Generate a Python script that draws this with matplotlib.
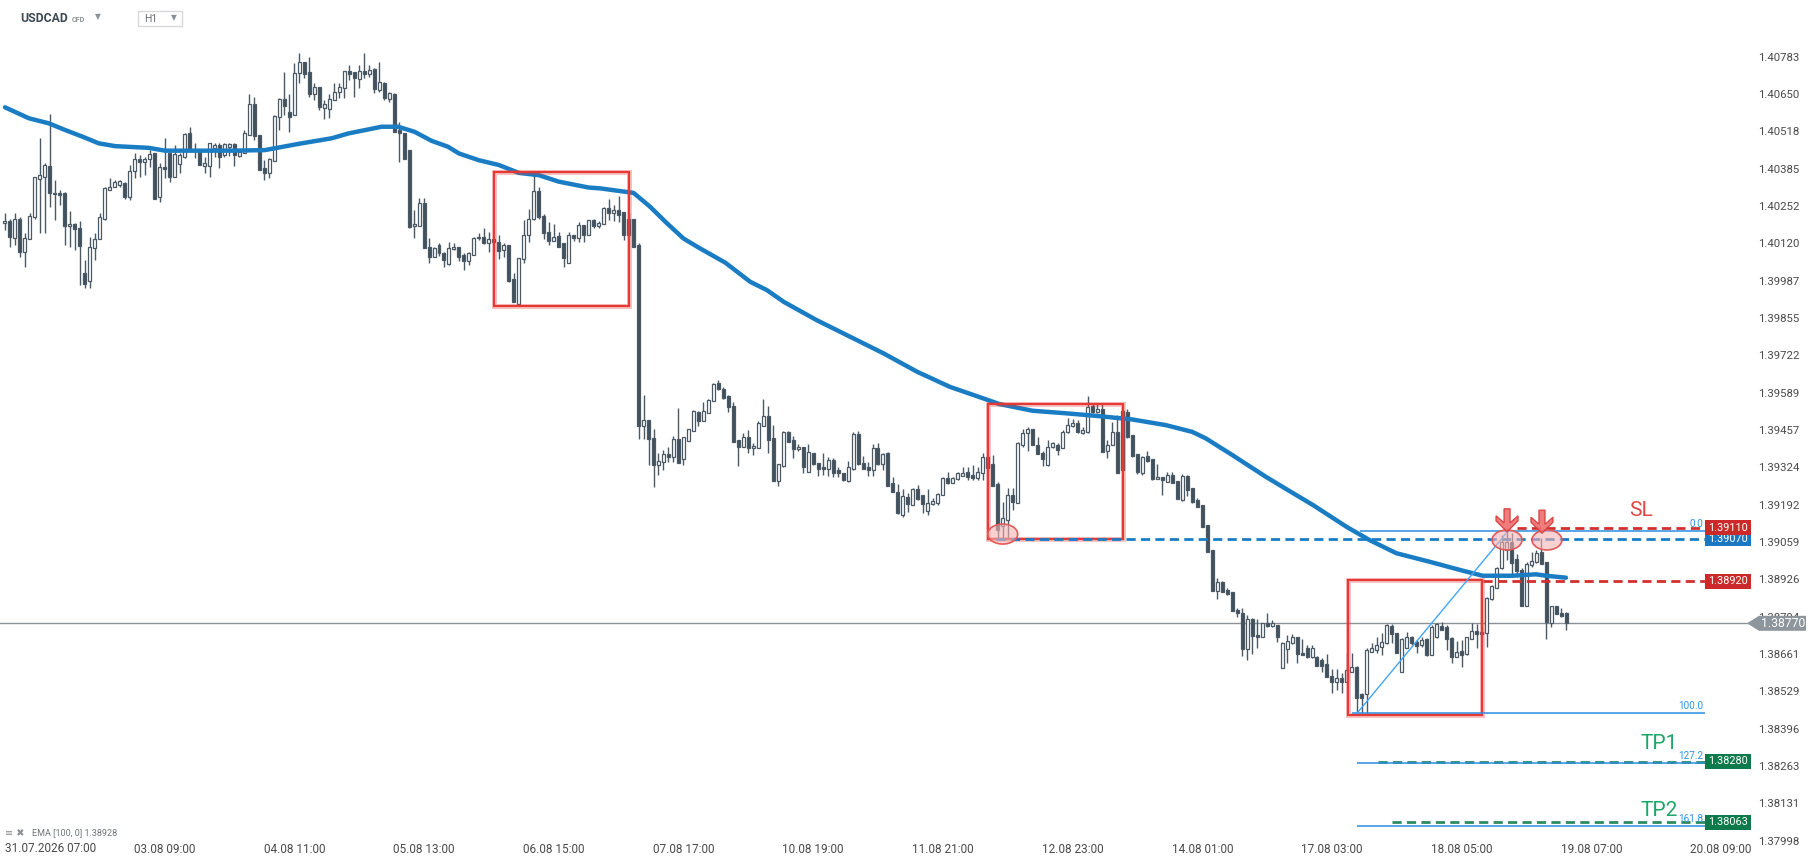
import numpy as np
import matplotlib.pyplot as plt
from matplotlib.patches import Rectangle, Ellipse, Polygon
from matplotlib import transforms

plt.rcParams['font.family'] = ['Roboto', 'DejaVu Sans']

# price points: price = 1.38 + pts / 1e5, one value per H1 candle
opens = [
    2193, 2200, 2137, 2206, 2088, 2134, 2212, 2350, 2356, 2395,
    2297, 2297, 2297, 2182, 2187, 2173, 2013, 1985, 2102, 2134,
    2208, 2311, 2321, 2327, 2333, 2283, 2378, 2418, 2410, 2419,
    2439, 2285, 2390, 2439, 2354, 2401, 2427, 2510, 2451, 2451,
    2396, 2396, 2457, 2469, 2433, 2463, 2473, 2431, 2439, 2505,
    2615, 2505, 2386, 2368, 2413, 2567, 2632, 2585, 2575, 2726,
    2763, 2729, 2652, 2674, 2601, 2596, 2629, 2656, 2670, 2732,
    2730, 2703, 2732, 2723, 2738, 2664, 2688, 2631, 2652, 2522,
    2510, 2451, 2183, 2183, 2262, 2108, 2072, 2114, 2084, 2045,
    2098, 2105, 2078, 2058, 2080, 2137, 2141, 2120, 2134, 2126,
    2096, 2114, 1992, 1906, 2063, 2149, 2205, 2307, 2217, 2159,
    2129, 2146, 2120, 2051, 2149, 2137, 2185, 2149, 2202, 2181,
    2188, 2244, 2228, 2238, 2230, 2149, 2208, 2114, 1471, 1492,
    1430, 1332, 1344, 1371, 1362, 1423, 1352, 1418, 1454, 1521,
    1490, 1518, 1561, 1622, 1604, 1577, 1542, 1421, 1398, 1431,
    1392, 1394, 1472, 1507, 1427, 1277, 1330, 1451, 1421, 1388,
    1395, 1309, 1374, 1338, 1327, 1317, 1350, 1315, 1305, 1277,
    1317, 1443, 1338, 1327, 1313, 1392, 1335, 1374, 1267, 1236,
    1155, 1218, 1190, 1246, 1226, 1170, 1193, 1196, 1226, 1285,
    1270, 1282, 1293, 1307, 1297, 1285, 1303, 1360, 1335, 1264,
    1115, 1137, 1225, 1198, 1403, 1445, 1462, 1403, 1376, 1331,
    1395, 1403, 1391, 1448, 1471, 1482, 1447, 1450, 1542, 1522,
    1533, 1383, 1403, 1450, 1314, 1521, 1439, 1371, 1305, 1364,
    1352, 1281, 1291, 1273, 1297, 1275, 1208, 1293, 1249, 1208,
    1190, 1119, 1030, 886, 918, 888, 882, 819, 805, 677,
    787, 728, 720, 772, 760, 764, 610, 678, 701, 723,
    665, 681, 649, 649, 640, 625, 583, 563, 575, 563,
    598, 613, 519, 518, 669, 675, 687, 699, 760, 734,
    598, 684, 723, 705, 693, 713, 657, 720, 760, 758,
    717, 651, 673, 661, 716, 743, 740, 737, 855, 894,
    965, 1030, 1060, 997, 959, 831, 978, 989, 1024, 989,
    772, 831, 808, 808]
highs = [
    2226, 2208, 2226, 2214, 2155, 2226, 2356, 2493, 2404, 2581,
    2345, 2309, 2303, 2236, 2191, 2200, 2060, 2143, 2155, 2226,
    2321, 2351, 2345, 2345, 2339, 2398, 2439, 2433, 2427, 2451,
    2442, 2404, 2493, 2445, 2469, 2439, 2510, 2532, 2475, 2451,
    2427, 2475, 2475, 2475, 2475, 2475, 2475, 2445, 2522, 2650,
    2638, 2505, 2416, 2422, 2575, 2637, 2729, 2652, 2759, 2795,
    2765, 2783, 2688, 2674, 2629, 2652, 2688, 2688, 2732, 2753,
    2730, 2753, 2795, 2753, 2741, 2765, 2694, 2658, 2655, 2552,
    2510, 2451, 2238, 2280, 2280, 2137, 2108, 2120, 2090, 2123,
    2122, 2105, 2084, 2090, 2141, 2155, 2173, 2161, 2140, 2149,
    2120, 2114, 2013, 2066, 2202, 2240, 2374, 2321, 2224, 2196,
    2188, 2161, 2120, 2161, 2149, 2196, 2185, 2202, 2208, 2200,
    2250, 2276, 2255, 2288, 2232, 2226, 2208, 2120, 1581, 1492,
    1462, 1374, 1385, 1395, 1435, 1536, 1433, 1459, 1527, 1525,
    1557, 1568, 1622, 1634, 1611, 1581, 1557, 1421, 1445, 1457,
    1409, 1487, 1566, 1542, 1475, 1335, 1453, 1453, 1436, 1407,
    1398, 1407, 1374, 1341, 1374, 1362, 1356, 1327, 1305, 1348,
    1451, 1453, 1364, 1344, 1407, 1409, 1376, 1380, 1291, 1264,
    1246, 1234, 1250, 1261, 1226, 1246, 1214, 1234, 1289, 1309,
    1291, 1309, 1327, 1327, 1333, 1327, 1374, 1360, 1368, 1273,
    1202, 1249, 1249, 1415, 1462, 1468, 1462, 1433, 1383, 1421,
    1415, 1409, 1456, 1501, 1494, 1492, 1468, 1577, 1551, 1551,
    1553, 1421, 1486, 1510, 1527, 1533, 1439, 1371, 1364, 1383,
    1352, 1336, 1291, 1308, 1308, 1275, 1299, 1297, 1249, 1214,
    1190, 1119, 1030, 930, 920, 894, 882, 823, 823, 799,
    790, 787, 772, 805, 782, 764, 705, 728, 732, 723,
    713, 693, 693, 655, 645, 661, 606, 606, 592, 663,
    663, 618, 524, 681, 699, 723, 737, 768, 768, 737,
    717, 740, 725, 711, 723, 717, 764, 770, 776, 764,
    723, 707, 711, 723, 772, 768, 758, 865, 906, 969,
    1084, 1104, 1090, 1016, 965, 989, 1024, 1030, 1072, 989,
    831, 831, 823, 811]
lows = [
    2167, 2108, 2114, 2072, 2037, 2134, 2208, 2155, 2155, 2250,
    2203, 2256, 2114, 2108, 2096, 1972, 1960, 1960, 2060, 2134,
    2203, 2309, 2321, 2321, 2276, 2274, 2351, 2356, 2362, 2392,
    2276, 2268, 2351, 2339, 2354, 2371, 2422, 2445, 2422, 2398,
    2368, 2356, 2427, 2386, 2427, 2431, 2396, 2427, 2439, 2505,
    2487, 2380, 2345, 2351, 2413, 2522, 2575, 2516, 2575, 2688,
    2706, 2641, 2629, 2593, 2560, 2564, 2629, 2635, 2635, 2700,
    2641, 2670, 2706, 2712, 2655, 2658, 2629, 2623, 2516, 2407,
    2419, 2173, 2137, 2183, 2102, 2049, 2072, 2075, 2034, 2043,
    2096, 2057, 2025, 2043, 2080, 2131, 2117, 2090, 2126, 2063,
    2072, 1983, 1912, 1900, 2051, 2125, 2202, 2208, 2134, 2114,
    2129, 2108, 2034, 2051, 2129, 2125, 2125, 2149, 2176, 2176,
    2188, 2202, 2200, 2196, 2131, 2146, 2105, 1423, 1423, 1332,
    1255, 1297, 1314, 1344, 1344, 1338, 1332, 1418, 1454, 1471,
    1490, 1516, 1561, 1598, 1568, 1522, 1415, 1329, 1395, 1376,
    1368, 1392, 1471, 1376, 1277, 1258, 1327, 1415, 1356, 1383,
    1303, 1309, 1333, 1293, 1297, 1293, 1291, 1291, 1277, 1273,
    1315, 1333, 1317, 1293, 1293, 1333, 1315, 1256, 1235, 1158,
    1149, 1167, 1190, 1208, 1163, 1153, 1190, 1190, 1226, 1264,
    1267, 1279, 1293, 1279, 1279, 1279, 1279, 1321, 1256, 1072,
    1072, 1072, 1172, 1196, 1397, 1383, 1403, 1371, 1329, 1329,
    1391, 1368, 1391, 1447, 1468, 1445, 1442, 1445, 1516, 1516,
    1379, 1356, 1403, 1305, 1314, 1430, 1362, 1302, 1297, 1344,
    1279, 1281, 1226, 1273, 1267, 1210, 1205, 1222, 1198, 1182,
    1113, 1024, 886, 858, 880, 870, 815, 793, 654, 639,
    661, 681, 720, 758, 758, 705, 610, 630, 698, 630,
    657, 645, 645, 618, 598, 578, 524, 533, 524, 557,
    598, 450, 450, 450, 669, 665, 657, 696, 699, 663,
    598, 681, 693, 663, 687, 654, 657, 717, 746, 675,
    630, 651, 614, 657, 713, 681, 732, 685, 853, 894,
    962, 995, 933, 933, 831, 831, 969, 985, 981, 713,
    756, 802, 794, 746]
closes = [
    2200, 2141, 2205, 2088, 2137, 2217, 2354, 2362, 2398, 2297,
    2294, 2290, 2182, 2190, 2171, 2111, 1975, 2108, 2134, 2214,
    2315, 2321, 2339, 2341, 2283, 2378, 2418, 2410, 2418, 2437,
    2279, 2390, 2383, 2354, 2437, 2433, 2508, 2451, 2449, 2398,
    2406, 2475, 2469, 2427, 2471, 2473, 2433, 2443, 2510, 2613,
    2501, 2380, 2368, 2418, 2572, 2632, 2609, 2567, 2726, 2765,
    2721, 2650, 2674, 2603, 2614, 2632, 2656, 2674, 2732, 2721,
    2706, 2732, 2723, 2735, 2667, 2694, 2635, 2655, 2516, 2510,
    2419, 2179, 2190, 2262, 2102, 2072, 2102, 2084, 2060, 2102,
    2105, 2072, 2058, 2084, 2137, 2141, 2120, 2134, 2126, 2093,
    2114, 1987, 1912, 2066, 2151, 2205, 2307, 2214, 2155, 2129,
    2143, 2108, 2066, 2149, 2137, 2185, 2149, 2202, 2181, 2193,
    2244, 2228, 2238, 2220, 2149, 2208, 2108, 1471, 1492, 1423,
    1332, 1346, 1371, 1362, 1423, 1340, 1433, 1459, 1525, 1490,
    1525, 1565, 1619, 1601, 1572, 1537, 1415, 1398, 1431, 1392,
    1400, 1481, 1507, 1421, 1277, 1335, 1451, 1415, 1388, 1395,
    1327, 1380, 1335, 1318, 1317, 1350, 1305, 1303, 1279, 1324,
    1443, 1335, 1317, 1315, 1392, 1335, 1372, 1259, 1236, 1161,
    1222, 1193, 1246, 1211, 1193, 1196, 1205, 1230, 1285, 1267,
    1285, 1303, 1303, 1291, 1285, 1309, 1360, 1321, 1258, 1102,
    1143, 1225, 1202, 1411, 1447, 1462, 1403, 1373, 1352, 1397,
    1409, 1385, 1450, 1474, 1483, 1450, 1456, 1539, 1522, 1533,
    1379, 1403, 1450, 1305, 1525, 1433, 1364, 1308, 1359, 1347,
    1281, 1291, 1279, 1297, 1269, 1210, 1293, 1243, 1202, 1184,
    1113, 1024, 886, 918, 882, 874, 815, 805, 677, 787,
    725, 720, 772, 760, 770, 720, 699, 707, 723, 661,
    657, 649, 681, 618, 620, 578, 563, 575, 563, 604,
    613, 504, 504, 675, 681, 693, 703, 764, 732, 666,
    713, 720, 699, 689, 711, 657, 758, 768, 746, 713,
    649, 669, 657, 720, 743, 732, 732, 859, 902, 965,
    1060, 1060, 985, 957, 831, 981, 993, 1021, 981, 776,
    831, 802, 796, 770]

# EMA(100) (candle index, pts)
ema_idx = [0, 4.8, 8.8, 12.1, 15.5, 18.8, 22.1, 28.8, 32.1, 38.8, 45.5, 52.1, 58.8,
           65.5, 68.8, 75.5, 78.8, 82.1, 85.5, 88.8, 91, 95, 99, 103, 107, 111, 117,
           119.3, 126, 129.3, 132.7, 136, 139.3, 144.4, 149.4, 152.7, 156.1, 162.7,
           169.4, 176.1, 182.8, 189.4, 196.1, 199.3, 206, 212.7, 219.3, 226, 232.7,
           238, 240.7, 246, 252.7, 255.5, 262.2, 268.9, 273.5, 278.9, 285.5, 292.2,
           296.2, 302.2, 306.9, 308.9, 312.9]
ema_pts = [2603, 2564, 2546, 2522, 2499, 2475, 2465, 2459, 2449, 2449, 2449, 2451, 2473,
           2493, 2510, 2534, 2534, 2516, 2484, 2463, 2439, 2415, 2398, 2370, 2362, 2339,
           2318, 2315, 2299, 2250, 2191, 2137, 2102, 2051, 1983, 1954, 1912, 1847,
           1788, 1729, 1664, 1610, 1569, 1549, 1525, 1516, 1506, 1494, 1474,
           1450, 1427, 1368, 1291, 1261, 1190, 1113, 1066, 1019, 989, 957,
           939, 939, 944, 939, 932]

date_idx = [32, 58, 84, 110, 136, 162, 188, 214, 240, 266, 292, 318, 344]
date_labels = ['03.08 09:00', '04.08 11:00', '05.08 13:00', '06.08 15:00', '07.08 17:00',
               '10.08 19:00', '11.08 21:00', '12.08 23:00', '14.08 01:00', '17.08 03:00',
               '18.08 05:00', '19.08 07:00', '20.08 09:00']
price_ticks = [1.37998, 1.38131, 1.38263, 1.38396, 1.38529, 1.38661, 1.38794, 1.38926,
               1.39059, 1.39192, 1.39324, 1.39457, 1.39589, 1.39722, 1.39855, 1.39987,
               1.40120, 1.40252, 1.40385, 1.40518, 1.40650, 1.40783]

# annotation boxes: (left idx, right idx, low price, high price)
boxes = [(98.0, 125.1, 1.39897, 1.40373),
         (197.0, 224.1, 1.39069, 1.39549),
         (269.2, 296.1, 1.38444, 1.38924)]
ellipses = [(200.0, 1.39087), (301.1, 1.39066), (309.1, 1.39066)]
arrows = [(301.1, 1.39095), (308.1, 1.39090)]
fib_levels = [('0.0', 1.39098, 271.6), ('100.0', 1.38450, 270.0),
              ('127.2', 1.38274, 271.0), ('161.8', 1.38050, 271.0)]
fib_diag = ([271.0, 301.3], [1.38450, 1.39098])
fib_end = 340.7
last_price = 1.38770
ema_last = 1.38928

W, H = 1818, 865
fig = plt.figure(figsize=(W / 100, H / 100), dpi=100)
ax = fig.add_axes([0, 23 / H, 1752 / W, 1 - 23 / H])
ax.set_xlim(-1.0, 350.2)
ax.set_ylim(1.379931, 1.409842)
for s in ax.spines.values():
    s.set_visible(False)

o = 1.38 + np.array(opens) / 1e5
h = 1.38 + np.array(highs) / 1e5
l = 1.38 + np.array(lows) / 1e5
c = 1.38 + np.array(closes) / 1e5
idx = np.arange(len(c))
up = c >= o

ax.vlines(idx, l, h, colors='#4b5965', linewidth=1.0, zorder=3)
bottoms = np.minimum(o, c)
heights = np.maximum(np.abs(c - o), 0.00002)
faces = np.where(up, '#ffffff', '#40505c')
ax.bar(idx, heights, bottom=bottoms, width=0.6, color=faces, edgecolor='#4b5965',
       linewidth=0.9, zorder=4)

ax.plot(ema_idx, 1.38 + np.array(ema_pts) / 1e5, color='#1a7dc4', lw=3.2, zorder=5,
        solid_capstyle='round', solid_joinstyle='round')

# current price line
ax.axhline(last_price, color='#8c9196', lw=1.0, zorder=2)

for x0, x1, p0, p1 in boxes:
    for lw, al in ((3.6, 0.3), (1.6, 1.0)):
        ax.add_patch(Rectangle((x0, p0), x1 - x0, p1 - p0, fill=False,
                               edgecolor='#e53935', lw=lw, alpha=al, zorder=6))

# levels
dash = (0, (3.3, 1.9))
ax.hlines(1.39070, 198.6, fib_end, color='#1a7dc4', lw=2, linestyles=dash, zorder=6)
ax.hlines(1.39110, 303.1, fib_end, color='#d32f2f', lw=2, linestyles=dash, zorder=6)
ax.hlines(1.38920, 296.3, fib_end, color='#d32f2f', lw=2, linestyles=dash, zorder=6)
ax.hlines(1.38278, 275.2, fib_end, color='#167f4f', lw=2, alpha=0.9, linestyles=dash, zorder=6)
ax.hlines(1.38064, 278.0, fib_end, color='#167f4f', lw=2, alpha=0.9, linestyles=dash, zorder=6)

for name, lvl, x0 in fib_levels:
    ax.hlines(lvl, x0, fib_end, color='#2a8de0', lw=1.1, zorder=6)
    ax.annotate(name, (fib_end, lvl), xytext=(-1, 1.5), textcoords='offset points',
                ha='right', va='bottom', fontsize=7.2, color='#2f95e8', zorder=7)
ax.plot(fib_diag[0], fib_diag[1], color='#42a5f5', lw=1.0, zorder=6)

for xe, pe in ellipses:
    ax.add_patch(Ellipse((xe, pe), 6.0, 0.00071, facecolor=(0.96, 0.70, 0.70, 0.6),
                         edgecolor='#e05a5a', lw=1.2, zorder=7))

arrow_shape = [(0, 0), (11, 11), (11, 16), (3, 9), (3, 23), (-3, 23), (-3, 9),
               (-11, 16), (-11, 11)]
for xa, pa in arrows:
    tr = transforms.Affine2D() + transforms.ScaledTranslation(xa, pa, ax.transData)
    ax.add_patch(Polygon(arrow_shape, closed=True, transform=tr, facecolor='#ef6f6f',
                         edgecolor='#d83c3c', lw=1.0, alpha=0.9, zorder=8, clip_on=False))

ax.text(328.0, 1.39172, 'SL', color='#e04848', fontsize=15, ha='center', va='center', zorder=8)
ax.text(331.5, 1.38343, 'TP1', color='#1ba866', fontsize=15, ha='center', va='center', zorder=8)
ax.text(331.5, 1.38105, 'TP2', color='#1ba866', fontsize=15, ha='center', va='center', zorder=8)

# axes ticks
ax.yaxis.tick_right()
ax.set_yticks(price_ticks, [f'{p:.5f}' for p in price_ticks])
ax.set_xticks(date_idx, date_labels)
ax.tick_params(axis='y', length=0, pad=4.3, labelsize=8.2, labelcolor='#4a4a4a')
ax.tick_params(axis='x', length=0, pad=0.8, labelsize=8.5, labelcolor='#4a4a4a')
fig.text(5 / W, (H - 848) / H, '31.07.2026 07:00', fontsize=8.5, color='#4a4a4a',
         ha='left', va='center')

ident = transforms.IdentityTransform()


def data_y(price):
    return ax.transData.transform((0, price))[1]


def price_tag(price, color, z):
    yc = data_y(price)
    fig.add_artist(Rectangle((1705, yc - 7.5), 46, 15, transform=ident,
                             facecolor=color, edgecolor='none', zorder=z))
    fig.text(1728, yc, f'{price:.5f}', transform=ident, ha='center', va='center',
             color='white', fontsize=7.8, zorder=z + 0.5)


price_tag(1.39070, '#1b78c0', 5)
price_tag(1.39110, '#cc2a2a', 6)
price_tag(1.38920, '#cc2a2a', 5)
price_tag(1.38280, '#0e7a4c', 5)
price_tag(1.38063, '#0e7a4c', 5)

yc = data_y(last_price)
fig.add_artist(Polygon([(1747, yc), (1759, yc + 7.5), (1806, yc + 7.5), (1806, yc - 7.5),
                        (1759, yc - 7.5)], closed=True, transform=ident,
                       facecolor='#8c969c', edgecolor='none', zorder=5))
fig.text(1783, yc, f'{last_price:.5f}', transform=ident, ha='center', va='center',
         color='white', fontsize=8.8, zorder=6)

# header
fig.text(20 / W, 1 - 19 / H, 'USDCAD', fontsize=8.8, fontweight='bold', color='#3e4a54',
         ha='left', va='center')
fig.text(72 / W, 1 - 20 / H, 'CFD', fontsize=5.2, fontweight='bold', color='#8a9096',
         ha='left', va='center')
fig.text(97.5 / W, 1 - 17 / H, '▼', fontsize=5.5, color='#8a9096', ha='center', va='center',
         family='DejaVu Sans')
fig.add_artist(Rectangle((138, H - 26), 44, 15, transform=ident, fill=False,
                         edgecolor='#d9d9d9', lw=1))
fig.text(144 / W, 1 - 18.5 / H, 'H1', fontsize=7.5, color='#6a6f74', ha='left', va='center')
fig.text(173.5 / W, 1 - 17.5 / H, '▼', fontsize=5.5, color='#8a9096', ha='center',
         va='center', family='DejaVu Sans')

# indicator legend
fig.text(5 / W, (H - 833) / H, '≡ ✖', fontsize=7, color='#8a8f94', ha='left', va='center',
         family='DejaVu Sans')
fig.text(32 / W, (H - 833) / H, f'EMA [100, 0] {ema_last:.5f}', fontsize=6.5,
         color='#6f757a', ha='left', va='center')

fig.savefig('out.png', dpi=100)
